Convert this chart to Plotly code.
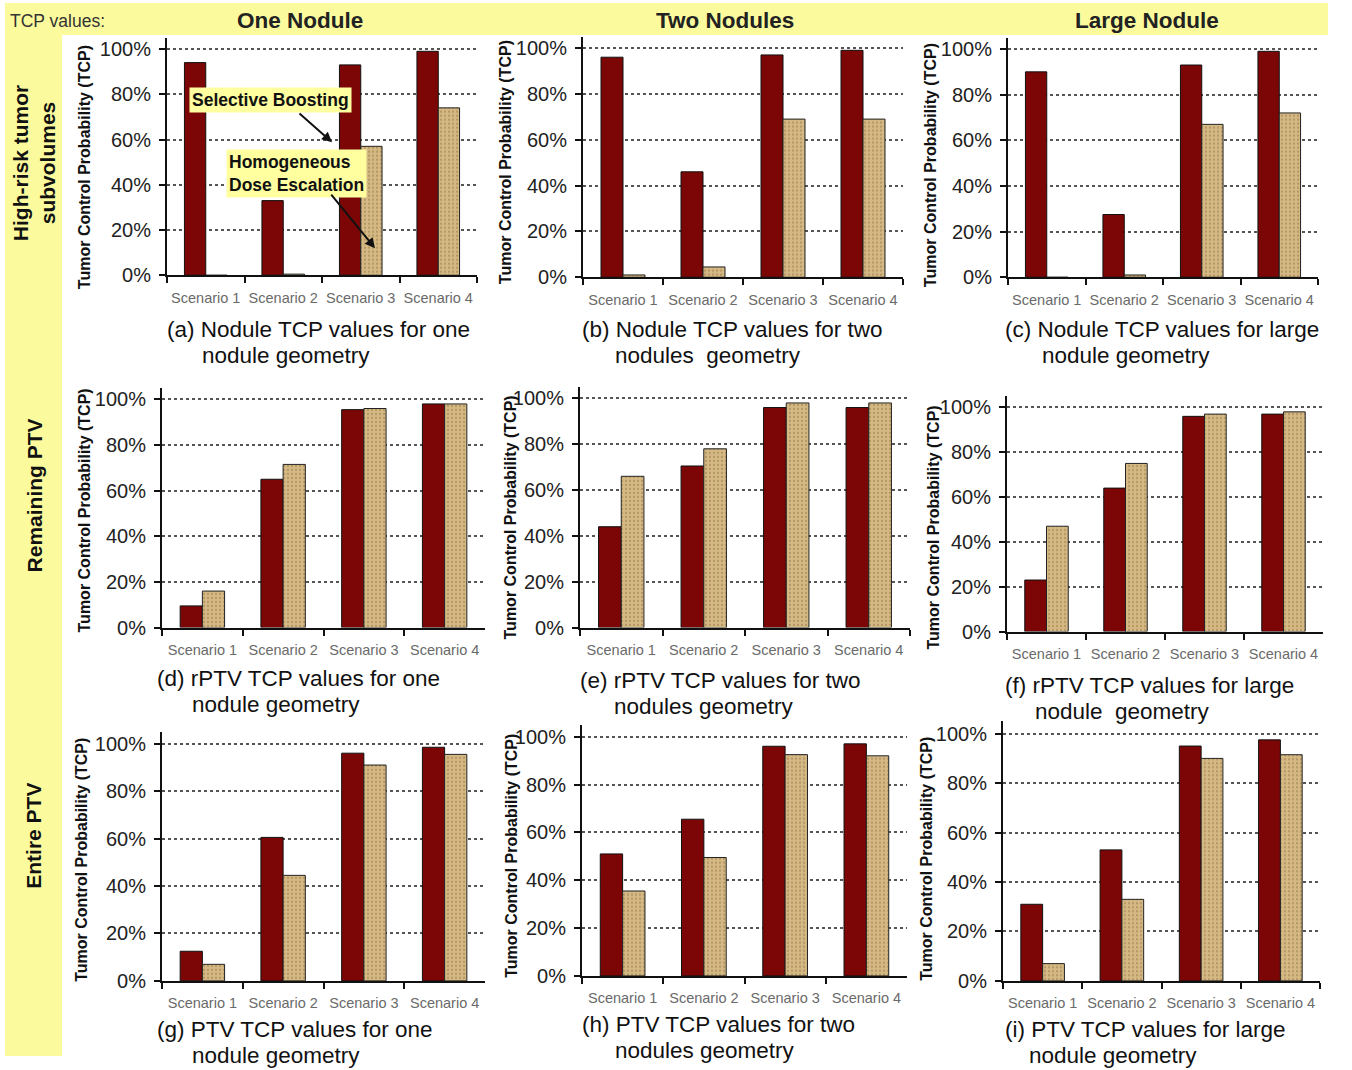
import plotly.graph_objects as go

W, H = 1352, 1070      # target picture size (coordinates below are in these pixels)
FIG_H = 1082           # rendered page height; the photo is resized to H

scenarios = ["Scenario 1", "Scenario 2", "Scenario 3", "Scenario 4"]

# Selective boosting (dark red) and homogeneous dose escalation (tan), TCP in %
sel_a = [94, 33, 93, 99];   hom_a = [0, 0.5, 57, 74]
sel_b = [96, 46, 97, 99];   hom_b = [1, 4.5, 69, 69]
sel_c = [90, 27.5, 93, 99]; hom_c = [0, 1, 67, 72]
sel_d = [9.5, 65, 95.5, 98]; hom_d = [16, 71.5, 96, 98]
sel_e = [44, 70.5, 96, 96]; hom_e = [66, 78, 98, 98]
sel_f = [23, 64, 96, 97];   hom_f = [47, 75, 97, 98]
sel_g = [12.5, 60.5, 96, 98.5]; hom_g = [7, 44.5, 91, 95.5]
sel_h = [51, 65.5, 96, 97]; hom_h = [35.5, 49.5, 92.5, 92]
sel_i = [31, 53, 95, 97.5]; hom_i = [7, 33, 90, 91.5]

y_ticks = [0, 20, 40, 60, 80, 100]
y_tick_labels = ["0%", "20%", "40%", "60%", "80%", "100%"]

captions = [
    ("(a) Nodule TCP values for one", "nodule geometry"),
    ("(b) Nodule TCP values for two", "nodules  geometry"),
    ("(c) Nodule TCP values for large", "nodule geometry"),
    ("(d) rPTV TCP values for one", "nodule geometry"),
    ("(e) rPTV TCP values for two", "nodules geometry"),
    ("(f) rPTV TCP values for large", "nodule  geometry"),
    ("(g) PTV TCP values for one", "nodule geometry"),
    ("(h) PTV TCP values for two", "nodules geometry"),
    ("(i) PTV TCP values for large", "nodule geometry"),
]
col_titles = ["One Nodule", "Two Nodules", "Large Nodule"]
row_titles = ["High-risk tumor<br>subvolumes", "Remaining PTV", "Entire PTV"]
y_title = "Tumor Control Probability (TCP)"

series = [(sel_a, hom_a), (sel_b, hom_b), (sel_c, hom_c),
          (sel_d, hom_d), (sel_e, hom_e), (sel_f, hom_f),
          (sel_g, hom_g), (sel_h, hom_h), (sel_i, hom_i)]

# layout geometry in page pixels: x_left, x_right, y(0%), y(100%)
geom = [
    (167, 477, 275, 49), (583, 903, 277, 48), (1008, 1318, 277, 49),
    (162, 485, 627, 399), (580, 910, 627, 398), (1007, 1323, 631, 407),
    (162, 485, 980, 743), (582, 907, 975, 736), (1003, 1320, 980, 733),
]
cap_pos = [
    (165, 329, 200, 355), (580, 329, 613, 355), (1003, 329, 1040, 355),
    (155, 678, 190, 704), (578, 680, 612, 706), (1003, 685, 1033, 711),
    (155, 1029, 190, 1055), (580, 1024, 613, 1050), (1003, 1029, 1027, 1055),
]
ytitle_pos = [(84, 167), (505, 162), (930, 165),
              (84, 510), (510, 517), (933, 527),
              (82, 859), (512, 855), (927, 858)]

YMAX = 105
FONT = "Arial, Liberation Sans, sans-serif"

def X(px):
    return px / W

def Y(py):
    return 1 - py / H

RED = "#7c0606"
TAN_BG = "#d5b985"
TAN_FG = "#93713f"
YEL = "#fbfb9e"

fig = go.Figure()
layout = {}
annotations = []
shapes = []

# yellow background bands
shapes.append(dict(type="rect", xref="paper", yref="paper", x0=X(5), x1=X(1328),
                   y0=Y(35), y1=Y(3), fillcolor=YEL, line_width=0, layer="below"))
shapes.append(dict(type="rect", xref="paper", yref="paper", x0=X(5), x1=X(62),
                   y0=Y(1055), y1=Y(3), fillcolor=YEL, line_width=0, layer="below"))

for k, ((sel, hom), (xl, xr, y0, y100)) in enumerate(zip(series, geom)):
    n = "" if k == 0 else str(k + 1)
    xa, ya = "x" + n, "y" + n
    ytop = y0 - (y0 - y100) * YMAX / 100.0
    fig.add_trace(go.Bar(x=scenarios, y=sel, xaxis=xa, yaxis=ya,
                         name="Selective Boosting", showlegend=False,
                         marker=dict(color=RED, line=dict(color="#111", width=1))))
    fig.add_trace(go.Bar(x=scenarios, y=hom, xaxis=xa, yaxis=ya,
                         name="Homogeneous Dose Escalation", showlegend=False,
                         marker=dict(color=TAN_BG, line=dict(color="#222", width=1),
                                     pattern=dict(shape=".", fgcolor=TAN_FG, bgcolor=TAN_BG,
                                                  size=4, solidity=0.25))))
    layout["xaxis" + n] = dict(domain=[X(xl), X(xr)], anchor=ya, showline=True,
                               linecolor="#111", linewidth=2, ticks="outside",
                               tickson="boundaries", ticklen=6, tickcolor="#111",
                               tickwidth=2, showgrid=False, ticklabelstandoff=8,
                               tickangle=0,
                               tickfont=dict(family=FONT, size=14.5, color="#6a6a6a"))
    layout["yaxis" + n] = dict(domain=[Y(y0), Y(ytop)], anchor=xa, range=[0, YMAX],
                               tickmode="array", tickvals=y_ticks, ticktext=y_tick_labels,
                               showline=True, linecolor="#111", linewidth=2,
                               ticks="outside", ticklen=6, tickcolor="#111", tickwidth=2,
                               showgrid=True, gridcolor="#555", griddash="dot",
                               gridwidth=1.5, zeroline=False, ticklabelstandoff=4,
                               tickfont=dict(family=FONT, size=20, color="#222"))
    c1, c2 = captions[k]
    cx1, cy1, cx2, cy2 = cap_pos[k]
    annotations.append(dict(text=c1, x=X(cx1), y=Y(cy1), xref="paper", yref="paper",
                            xanchor="left", yanchor="middle", showarrow=False,
                            font=dict(family=FONT, size=22.5, color="#111")))
    annotations.append(dict(text=c2, x=X(cx2), y=Y(cy2), xref="paper", yref="paper",
                            xanchor="left", yanchor="middle", showarrow=False,
                            font=dict(family=FONT, size=22.5, color="#111")))
    tx, ty = ytitle_pos[k]
    annotations.append(dict(text="<b>" + y_title + "</b>", x=X(tx), y=Y(ty),
                            xref="paper", yref="paper", textangle=-90,
                            xanchor="center", yanchor="middle", showarrow=False,
                            font=dict(family=FONT, size=16, color="#111")))

# header texts
annotations.append(dict(text="TCP values:", x=X(8), y=Y(21), xref="paper", yref="paper",
                        xanchor="left", yanchor="middle", showarrow=False,
                        font=dict(family=FONT, size=17.5, color="#333")))
for t, cx in zip(col_titles, [300, 725, 1147]):
    annotations.append(dict(text="<b>" + t + "</b>", x=X(cx), y=Y(20), xref="paper",
                            yref="paper", xanchor="center", yanchor="middle",
                            showarrow=False, font=dict(family=FONT, size=22.5, color="#222")))
for t, cy in zip(row_titles, [163, 495, 835]):
    annotations.append(dict(text="<b>" + t + "</b>", x=X(34), y=Y(cy), xref="paper",
                            yref="paper", textangle=-90, xanchor="center", yanchor="middle",
                            showarrow=False, font=dict(family=FONT, size=21, color="#111")))

# callouts in panel (a)
annotations.append(dict(text="<b>Selective Boosting</b>", x=X(270), y=Y(100), xref="paper",
                        yref="paper", xanchor="center", yanchor="middle", showarrow=False,
                        bgcolor="#ffffa0", borderpad=2,
                        font=dict(family=FONT, size=17.5, color="#111")))
annotations.append(dict(text="<b>Homogeneous<br>Dose Escalation</b>", x=X(296), y=Y(173),
                        xref="paper", yref="paper", xanchor="center", yanchor="middle",
                        align="left", showarrow=False, bgcolor="#ffffa0", borderpad=2,
                        font=dict(family=FONT, size=17.5, color="#111")))
annotations.append(dict(text="", x=X(332), y=Y(142), xref="paper", yref="paper",
                        ax=298 - 332, ay=112 - 142, axref="pixel", ayref="pixel",
                        showarrow=True, arrowhead=2, arrowsize=1, arrowwidth=2,
                        arrowcolor="#111"))
annotations.append(dict(text="", x=X(375), y=Y(248), xref="paper", yref="paper",
                        ax=330 - 375, ay=193 - 248, axref="pixel", ayref="pixel",
                        showarrow=True, arrowhead=2, arrowsize=1, arrowwidth=2,
                        arrowcolor="#111"))

fig.update_layout(width=W, height=FIG_H, margin=dict(l=0, r=0, t=0, b=0),
                  paper_bgcolor="white", plot_bgcolor="white",
                  barmode="group", bargap=0.45, bargroupgap=0,
                  font=dict(family=FONT),
                  annotations=annotations, shapes=shapes, **layout)

post = ("document.body.style.margin='0';"
        "var gd=document.getElementById('{plot_id}');"
        "gd.parentElement.style.height='" + str(FIG_H) + "px';"
        "gd.parentElement.style.overflow='hidden';")

fig.write_html("out.html", config={"displayModeBar": False}, post_script=post)
